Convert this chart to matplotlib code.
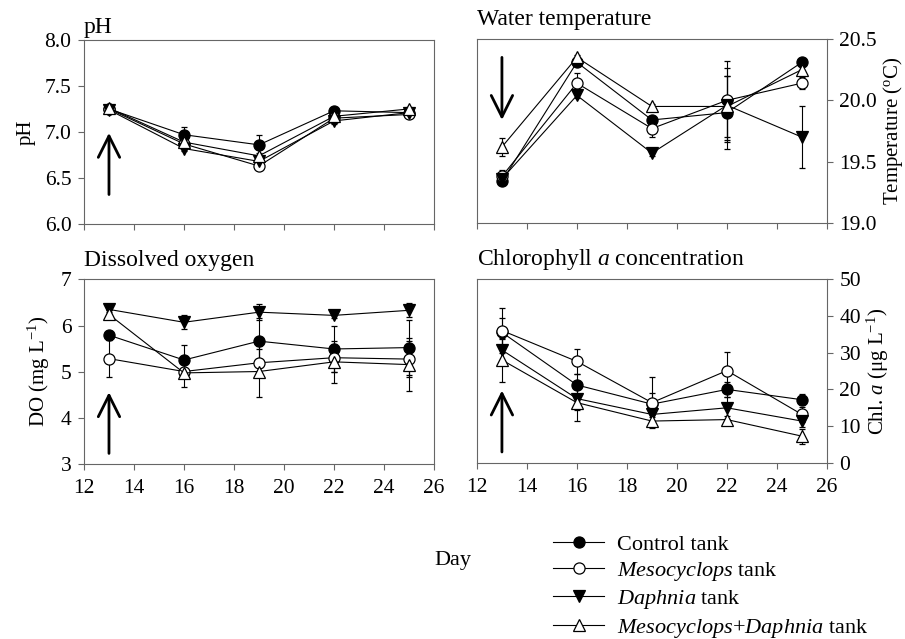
import numpy as np
import matplotlib
matplotlib.use('Agg')
import matplotlib.pyplot as plt
from matplotlib.lines import Line2D

plt.rcParams['font.family'] = ['Liberation Serif', 'DejaVu Serif']
plt.rcParams['mathtext.fontset'] = 'custom'
plt.rcParams['mathtext.rm'] = 'Liberation Serif'
plt.rcParams['mathtext.it'] = 'Liberation Serif:italic'

days = [13, 16, 19, 22, 25]
series = ['Control tank', r'$\mathit{Mesocyclops}$ tank', r'$\mathit{Daphnia}$ tank',
          r'$\mathit{Mesocyclops}$+$\mathit{Daphnia}$ tank']

# pH  (control, mesocyclops, daphnia, meso+daphnia)
ph_control = [7.25, 6.97, 6.86, 7.23, 7.21]
ph_meso = [7.25, 6.87, 6.63, 7.15, 7.19]
ph_daph = [7.24, 6.82, 6.68, 7.12, 7.21]
ph_both = [7.26, 6.89, 6.74, 7.17, 7.25]
ph_control_err = [0.02, 0.08, 0.11, 0.03, 0.02]
ph_meso_err = [0.02, 0.03, 0.03, 0.03, 0.02]
ph_daph_err = [0.02, 0.03, 0.03, 0.03, 0.02]
ph_both_err = [0.02, 0.03, 0.03, 0.03, 0.02]

# water temperature
t_control = [19.34, 20.31, 19.84, 19.90, 20.31]
t_meso = [19.38, 20.14, 19.77, 20.00, 20.14]
t_daph = [19.36, 20.04, 19.57, 19.96, 19.70]
t_both = [19.62, 20.35, 19.95, 19.95, 20.25]
t_control_err = [0.02, 0.03, 0.03, 0.30, 0.02]
t_meso_err = [0.05, 0.08, 0.07, 0.32, 0.05]
t_daph_err = [0.02, 0.02, 0.02, 0.30, 0.25]
t_both_err = [0.07, 0.02, 0.02, 0.25, 0.05]

# dissolved oxygen
do_control = [5.79, 5.25, 5.66, 5.49, 5.52]
do_meso = [5.28, 5.00, 5.19, 5.30, 5.27]
do_daph = [6.35, 6.07, 6.29, 6.22, 6.33]
do_both = [6.24, 4.97, 5.00, 5.21, 5.15]
do_control_err = [0.10, 0.33, 0.50, 0.50, 0.60]
do_meso_err = [0.40, 0.05, 0.30, 0.30, 0.40]
do_daph_err = [0.05, 0.15, 0.17, 0.05, 0.15]
do_both_err = [0.10, 0.30, 0.55, 0.45, 0.58]

# chlorophyll a
chl_control = [35.5, 21.2, 16.0, 20.0, 17.2]
chl_meso = [36.0, 27.6, 16.4, 25.1, 13.2]
chl_daph = [30.7, 17.5, 13.2, 15.0, 11.4]
chl_both = [28.0, 16.4, 11.4, 11.8, 7.3]
chl_control_err = [4.0, 3.0, 3.0, 2.0, 1.5]
chl_meso_err = [6.0, 3.3, 7.0, 5.0, 2.0]
chl_daph_err = [3.0, 3.0, 2.0, 3.0, 1.5]
chl_both_err = [6.0, 5.0, 1.0, 1.0, 2.0]

styles = [dict(marker='o', mfc='black', ms=8),
          dict(marker='o', mfc='white', ms=8),
          dict(marker='v', mfc='black', ms=8.5),
          dict(marker='^', mfc='white', ms=8.5)]

fig = plt.figure(figsize=(9.05, 6.39), dpi=100)
spine_col = '#666666'


def panel(rect, vals, errs, ylim, yticks, fmt, title, ylabel, right, xlabels, arrow, title_pad):
    ax = fig.add_axes(rect)
    for v, e, st in zip(vals, errs, styles):
        ax.errorbar(days, v, yerr=e, color='black', lw=0.8, mec='black', mew=0.9,
                    elinewidth=0.8, capsize=2.5, capthick=0.8, **st)
    ax.set_xlim(12, 26)
    ax.set_ylim(*ylim)
    ax.set_xticks(range(12, 27, 2))
    ax.set_yticks(yticks)
    ax.set_yticklabels([fmt % t for t in yticks])
    for s in ax.spines.values():
        s.set_color(spine_col)
        s.set_linewidth(0.8)
    ax.tick_params(direction='out', length=4, width=0.8, color=spine_col, labelsize=15.5)
    ax.tick_params(axis='x', pad=7)
    ax.tick_params(axis='y', pad=5)
    if right:
        ax.yaxis.tick_right()
        ax.yaxis.set_label_position('right')
        ax.set_ylabel(ylabel, fontsize=15, labelpad=3)
    else:
        ax.set_ylabel(ylabel, fontsize=15, labelpad=6)
    if not xlabels:
        ax.set_xticklabels([])
    ax.set_title(title, loc='left', fontsize=17, pad=title_pad)
    ax.annotate('', xy=(13, arrow[1]), xytext=(13, arrow[0]),
                arrowprops=dict(arrowstyle='->,head_length=0.7,head_width=0.35',
                                lw=2, color='black', mutation_scale=22, shrinkA=0, shrinkB=0))
    return ax


panel([0.0928, 0.6495, 0.3867, 0.288],
      [ph_control, ph_meso, ph_daph, ph_both],
      [ph_control_err, ph_meso_err, ph_daph_err, ph_both_err],
      (6.0, 8.0), [6.0, 6.5, 7.0, 7.5, 8.0], '%.1f', 'pH', 'pH', False, False, (6.32, 6.99), 5)
panel([0.527, 0.651, 0.3867, 0.288],
      [t_control, t_meso, t_daph, t_both],
      [t_control_err, t_meso_err, t_daph_err, t_both_err],
      (19.0, 20.5), [19.0, 19.5, 20.0, 20.5], '%.1f', 'Water temperature',
      r'Temperature ($^{\rm o}$C)', True, False, (20.35, 19.84), 10)
panel([0.0928, 0.2746, 0.3867, 0.288],
      [do_control, do_meso, do_daph, do_both],
      [do_control_err, do_meso_err, do_daph_err, do_both_err],
      (3, 7), [3, 4, 5, 6, 7], '%d', 'Dissolved oxygen',
      r'DO (mg L$^{-1}$)', False, True, (3.22, 4.55), 10)
panel([0.527, 0.2754, 0.3867, 0.288],
      [chl_control, chl_meso, chl_daph, chl_both],
      [chl_control_err, chl_meso_err, chl_daph_err, chl_both_err],
      (0, 50), [0, 10, 20, 30, 40, 50], '%d', r'Chlorophyll $\mathit{a}$ concentration',
      r'Chl. $\mathit{a}$ ($\mathrm{\mu}$g L$^{-1}$)', True, True, (3.0, 19.7), 10)

fig.text(453 / 905, 1 - 561 / 639, 'Day', fontsize=16, ha='center', va='center')

handles = [Line2D([0], [0], color='black', lw=0.8, mec='black', mew=0.9, **st) for st in styles]
fig.legend(handles, series, loc='upper left', bbox_to_anchor=(553 / 905, 1 - 534 / 639),
           frameon=False, fontsize=16, handlelength=2.3, handletextpad=0.6,
           labelspacing=0.24, borderpad=0, borderaxespad=0)

plt.savefig('out.png', dpi=100)
